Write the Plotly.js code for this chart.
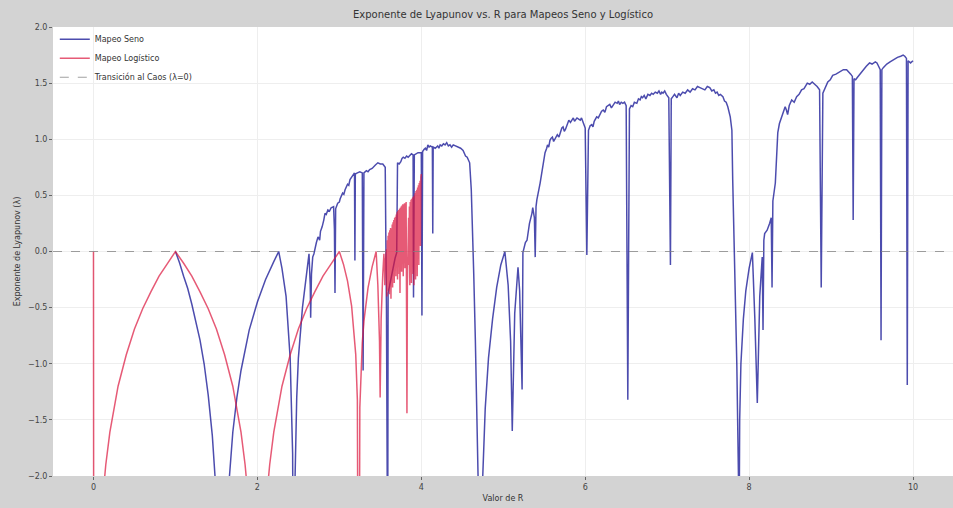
<!DOCTYPE html>
<html><head><meta charset="utf-8">
<script src="https://cdn.plot.ly/plotly-3.0.1.min.js"></script>
<style>html,body{margin:0;padding:0;background:#d3d3d3;}</style>
</head><body><div id="chart" style="width:953px;height:508px;"></div>
<script>
// Sine map x -> R sin(x): [R, lambda]  (below R=1 it coincides with the logistic curve)
const sinePoints = [
[1.0,0.0],
[1.05,-0.10],[1.1,-0.22],[1.15,-0.33],[1.2,-0.47],[1.25,-0.62],[1.3,-0.79],[1.35,-1.0],[1.4,-1.28],[1.45,-1.64],[1.5,-2.19],[1.55,-3.4],[1.571,-6.0],
[1.6,-3.1],[1.65,-2.09],[1.7,-1.61],[1.75,-1.30],[1.8,-1.06],[1.9,-0.70],[2.0,-0.45],[2.1,-0.25],[2.2,-0.09],[2.26,0.0],
[2.3,-0.15],[2.35,-0.4],[2.4,-0.95],[2.42,-1.4],[2.43,-1.8],[2.443,-4.0],[2.46,-2.0],[2.48,-1.3],[2.5,-0.95],[2.55,-0.5],[2.6,-0.18],[2.63,-0.02],
[2.645,-0.3],[2.65,-0.59],[2.66,-0.2],[2.675,-0.05],[2.69,-0.02],[2.706,0.04],[2.72,0.08],[2.74,0.13],[2.76,0.10],[2.77,0.18],[2.79,0.22],[2.81,0.28],[2.825,0.34],[2.84,0.33],[2.86,0.37],[2.88,0.36],[2.9,0.39],[2.93,0.40],[2.94,0.2],[2.947,-0.37],[2.955,0.38],[2.98,0.43],[3.0,0.44],[3.01,0.47],[3.04,0.52],[3.055,0.51],[3.07,0.55],[3.1,0.60],[3.115,0.59],[3.13,0.64],[3.16,0.67],[3.185,0.70],[3.19,-0.08],[3.195,0.69],[3.22,0.70],[3.25,0.71],[3.28,0.70],[3.29,-1.06],[3.30,0.70],[3.33,0.72],[3.35,0.71],[3.37,0.73],[3.40,0.74],[3.42,0.76],[3.44,0.77],[3.47,0.79],[3.5,0.78],
[3.53,0.78],[3.56,0.75],[3.575,-0.5],[3.59,-3.0],[3.595,-0.37],[3.62,-0.27],[3.65,-0.15],[3.68,-0.06],[3.70,-0.01],[3.705,0.4],
[3.71,0.79],[3.73,0.78],[3.75,0.80],[3.765,0.83],[3.78,0.84],[3.8,0.83],[3.82,0.85],[3.84,0.84],[3.86,0.86],[3.88,0.87],[3.9,0.86],[3.905,-0.41],[3.915,0.86],[3.94,0.87],[3.96,0.88],[3.98,0.88],[4.0,0.88],[4.008,-0.57],[4.016,0.89],[4.035,0.91],[4.05,0.92],[4.065,0.90],[4.08,0.95],[4.095,0.93],[4.11,0.94],[4.135,0.93],[4.14,0.16],[4.145,0.93],[4.17,0.92],[4.2,0.94],[4.215,0.92],[4.23,0.95],[4.25,0.94],[4.27,0.96],[4.29,0.95],[4.31,0.97],[4.33,0.94],[4.35,0.95],[4.37,0.93],[4.39,0.95],[4.42,0.94],[4.45,0.93],[4.48,0.92],[4.51,0.90],[4.54,0.85],[4.56,0.84],[4.59,0.79],[4.61,0.55],[4.62,0.34],[4.64,-0.2],[4.66,-0.8],[4.68,-1.6],[4.7,-3.0],[4.72,-3.0],
[4.75,-2.0],[4.78,-1.4],[4.82,-0.95],[4.87,-0.6],[4.92,-0.32],[4.97,-0.12],[5.02,0.0],[5.06,-0.3],[5.09,-0.8],[5.11,-1.6],[5.14,-0.55],[5.18,-0.14],[5.2,-0.35],[5.23,-1.23],[5.24,-0.01],[5.27,0.08],[5.29,0.10],[5.32,0.25],[5.35,0.34],[5.36,0.39],[5.38,0.3],[5.39,-0.05],[5.40,0.40],[5.41,0.46],
[5.45,0.61],[5.47,0.70],[5.48,0.78],[5.50,0.84],[5.51,0.88],[5.53,0.92],[5.54,0.95],[5.555,0.93],[5.57,0.99],[5.585,1.01],[5.6,1.02],[5.615,0.98],[5.63,1.0],[5.645,1.03],[5.66,1.04],[5.68,1.02],[5.7,1.08],[5.715,1.10],[5.73,1.11],[5.745,1.07],[5.76,1.09],[5.78,1.14],[5.8,1.17],[5.82,1.15],[5.84,1.18],[5.855,1.19],[5.87,1.16],[5.885,1.18],[5.9,1.19],[5.92,1.18],[5.94,1.17],[5.955,1.19],[5.97,1.15],[5.99,1.12],[6.0,1.1],[6.02,-0.03],[6.04,1.08],[6.06,1.12],[6.08,1.13],[6.095,1.11],[6.11,1.16],[6.125,1.18],[6.14,1.20],[6.16,1.19],[6.18,1.22],[6.2,1.25],[6.22,1.26],[6.24,1.24],[6.26,1.29],[6.28,1.30],[6.3,1.31],[6.32,1.28],[6.34,1.30],[6.365,1.33],[6.39,1.32],[6.405,1.34],[6.42,1.31],[6.44,1.33],[6.46,1.32],[6.48,1.33],[6.5,1.3],[6.52,-1.32],[6.54,1.27],[6.56,1.30],[6.58,1.29],[6.6,1.33],[6.63,1.32],[6.65,1.36],[6.67,1.35],[6.685,1.38],[6.7,1.37],[6.72,1.39],[6.74,1.36],[6.765,1.40],[6.79,1.39],[6.81,1.41],[6.83,1.40],[6.855,1.42],[6.88,1.41],[6.9,1.43],[6.92,1.40],[6.935,1.42],[6.95,1.41],[6.97,1.43],[6.99,1.40],[7.02,1.37],[7.04,-0.12],[7.05,1.36],[7.07,1.38],[7.09,1.40],[7.12,1.37],[7.14,1.41],[7.16,1.39],[7.19,1.42],[7.22,1.41],[7.25,1.44],[7.28,1.42],[7.31,1.45],[7.34,1.44],[7.37,1.47],[7.4,1.46],[7.43,1.45],[7.46,1.44],[7.49,1.47],[7.52,1.46],[7.545,1.43],[7.57,1.44],[7.59,1.41],[7.61,1.42],[7.63,1.39],[7.65,1.40],[7.68,1.38],[7.7,1.34],[7.72,1.33],[7.74,1.29],[7.77,1.2],[7.79,1.08],[7.8,0.64],[7.83,-0.25],[7.85,-1.0],[7.87,-2.0],[7.875,-3.0],
[7.885,-1.5],[7.9,-1.0],[7.93,-0.6],[7.96,-0.35],[8.0,-0.15],[8.04,-0.01],[8.07,-0.6],[8.1,-1.35],[8.13,-0.4],[8.16,-0.05],[8.17,-0.70],[8.18,0.1],[8.19,0.16],[8.22,0.19],[8.25,0.25],[8.27,0.3],[8.28,-0.32],[8.29,0.45],[8.32,0.61],
[8.35,1.06],[8.37,1.14],[8.4,1.20],[8.42,1.24],[8.44,1.29],[8.455,1.26],[8.47,1.22],[8.49,1.30],[8.5,1.32],[8.52,1.35],[8.55,1.33],[8.58,1.38],[8.61,1.40],[8.64,1.44],[8.67,1.45],[8.71,1.50],[8.74,1.49],[8.77,1.51],[8.8,1.49],[8.83,1.47],[8.86,1.44],[8.88,-0.32],[8.9,1.41],[8.93,1.46],[8.96,1.51],[8.99,1.53],[9.02,1.57],[9.06,1.58],[9.11,1.60],[9.15,1.62],[9.19,1.62],[9.22,1.60],[9.24,1.58],[9.26,1.56],[9.27,0.28],[9.28,1.54],[9.3,1.53],[9.32,1.55],[9.36,1.59],[9.39,1.62],[9.43,1.65],[9.47,1.68],[9.5,1.67],[9.54,1.69],[9.56,1.68],[9.58,1.65],[9.6,1.62],[9.61,-0.79],[9.62,1.62],[9.64,1.64],[9.68,1.67],[9.72,1.69],[9.76,1.71],[9.81,1.73],[9.85,1.74],[9.88,1.75],[9.9,1.74],[9.92,1.72],[9.93,-1.19],[9.94,1.70],[9.97,1.68],[10.0,1.70]
];

// Logistic map x -> R x (1-x): [R, lambda]
const logisticPoints = [
[0.0,0.0],[0.005,-5.3],[0.05,-3.0],[0.1,-2.3],[0.15,-1.9],[0.2,-1.61],[0.3,-1.2],[0.4,-0.92],[0.5,-0.69],[0.6,-0.51],[0.7,-0.36],[0.8,-0.22],[0.9,-0.11],[1.0,0.0],
[1.1,-0.105],[1.2,-0.22],[1.3,-0.36],[1.4,-0.51],[1.5,-0.69],[1.6,-0.92],[1.7,-1.2],[1.8,-1.61],[1.85,-1.9],[1.9,-2.3],[1.95,-3.0],[1.995,-5.3],
[2.005,-5.3],[2.05,-3.0],[2.1,-2.3],[2.15,-1.9],[2.2,-1.61],[2.3,-1.2],[2.4,-0.92],[2.5,-0.69],[2.6,-0.51],[2.7,-0.36],[2.8,-0.22],[2.9,-0.11],[3.0,0.0],
[3.05,-0.113],[3.1,-0.264],[3.15,-0.487],[3.2,-0.916],[3.22,-1.32],[3.236,-5.0],[3.25,-1.39],[3.28,-0.81],[3.3,-0.62],[3.35,-0.325],[3.4,-0.137],[3.449,0.0],
[3.47,-0.3],[3.49,-0.8],[3.498,-1.3],[3.51,-0.6],[3.53,-0.2],[3.544,-0.02],[3.55,-0.15],[3.555,-0.3],[3.56,-0.1],[3.565,-0.03],
[3.570,-0.05],[3.575,0.02],[3.580,-0.40],[3.585,0.10],[3.590,-0.35],[3.595,0.14],[3.600,-0.30],[3.605,0.17],[3.610,-0.38],[3.615,0.19],[3.620,-0.25],[3.625,0.21],[3.630,-0.42],[3.635,0.20],[3.640,-0.20],[3.645,0.24],[3.650,-0.32],[3.655,0.26],[3.660,-0.15],[3.665,0.28],[3.670,-0.28],[3.675,0.30],[3.680,-0.12],[3.685,0.31],[3.690,-0.22],[3.695,0.33],[3.700,-0.10],[3.705,0.35],[3.710,-0.25],[3.715,0.36],[3.720,-0.08],[3.725,0.37],[3.730,-0.20],[3.735,0.38],[3.740,-0.37],[3.745,0.39],[3.750,-0.10],[3.755,0.40],[3.760,-0.18],[3.765,0.41],[3.770,-0.05],[3.775,0.42],[3.780,-0.22],[3.785,0.42],[3.790,0.05],[3.795,0.43],[3.800,-0.15],[3.805,0.43],[3.810,-0.02],[3.815,0.44],[3.820,-0.25],[3.825,-1.44],[3.830,-0.3],[3.835,-0.15],[3.840,-0.05],[3.845,0.30],[3.850,-0.12],[3.855,0.40],[3.860,-0.30],[3.865,0.44],[3.870,-0.08],[3.875,0.46],[3.880,-0.28],[3.885,0.47],[3.890,0.02],[3.895,0.48],[3.900,-0.20],[3.905,0.49],[3.910,-0.30],[3.915,0.50],[3.920,0.05],[3.925,0.52],[3.930,-0.25],[3.935,0.54],[3.940,-0.05],[3.945,0.55],[3.950,-0.22],[3.955,0.57],[3.960,0.10],[3.965,0.59],[3.970,-0.12],[3.975,0.61],[3.980,0.20],[3.985,0.63],[3.990,0.05],[3.995,0.66],[4.000,0.69]
];

const chaosThreshold = [[-0.494,0],[10.488,0]];
const xTicks = [0,2,4,6,8,10];
const yTicks = [-2.0,-1.5,-1.0,-0.5,0.0,0.5,1.0,1.5,2.0];

const traces = [
  {x: sinePoints.map(p=>p[0]), y: sinePoints.map(p=>p[1]), type:'scatter', mode:'lines', name:'Mapeo Seno',
   line:{color:'rgba(0,0,139,0.7)', width:1.5}},
  {x: logisticPoints.map(p=>p[0]), y: logisticPoints.map(p=>p[1]), type:'scatter', mode:'lines', name:'Mapeo Logístico',
   line:{color:'rgba(220,20,60,0.7)', width:1.5}},
  {x: chaosThreshold.map(p=>p[0]), y: chaosThreshold.map(p=>p[1]), type:'scatter', mode:'lines', name:'Transición al Caos (λ=0)',
   line:{color:'rgba(128,128,128,0.75)', width:1.2, dash:'dash'}}
];

const layout = {
  width:953, height:508,
  paper_bgcolor:'#d3d3d3', plot_bgcolor:'#ffffff',
  margin:{l:53, r:0, t:27, b:32},
  font:{family:'DejaVu Sans, sans-serif', size:8, color:'#444'},
  title:{text:'Exponente de Lyapunov vs. R para Mapeos Seno y Logístico', font:{size:10, color:'#333'},
         x:0.5, xref:'paper', y:0.972, yref:'container', yanchor:'middle'},
  xaxis:{range:[-0.494,10.488], tickvals:xTicks, ticktext:xTicks.map(String), showgrid:true, gridcolor:'#eeeeee', gridwidth:1,
         zeroline:false, showline:false, ticks:'outside', ticklen:3, tickcolor:'#666', tickfont:{size:8,color:'#444'},
         title:{text:'Valor de R', font:{size:8,color:'#333'}, standoff:4}},
  yaxis:{range:[-2,2], tickvals:yTicks, ticktext:yTicks.map(v=>(v<0?'\u2212':'')+Math.abs(v).toFixed(1)), showgrid:true, gridcolor:'#eeeeee', gridwidth:1,
         zeroline:false, showline:false, ticks:'outside', ticklen:3, tickcolor:'#666', tickfont:{size:8,color:'#444'},
         title:{text:'Exponente de Lyapunov (λ)', font:{size:8,color:'#333'}, standoff:6}},
  legend:{x:0.002, y:1.005, xanchor:'left', yanchor:'top', bgcolor:'rgba(255,255,255,0)', bordercolor:'rgba(0,0,0,0)', borderwidth:0,
          font:{size:8,color:'#333'}, itemwidth:30, tracegroupgap:0},
  showlegend:true
};

Plotly.newPlot('chart', traces, layout, {displayModeBar:false, staticPlot:true});
</script>
</body></html>
